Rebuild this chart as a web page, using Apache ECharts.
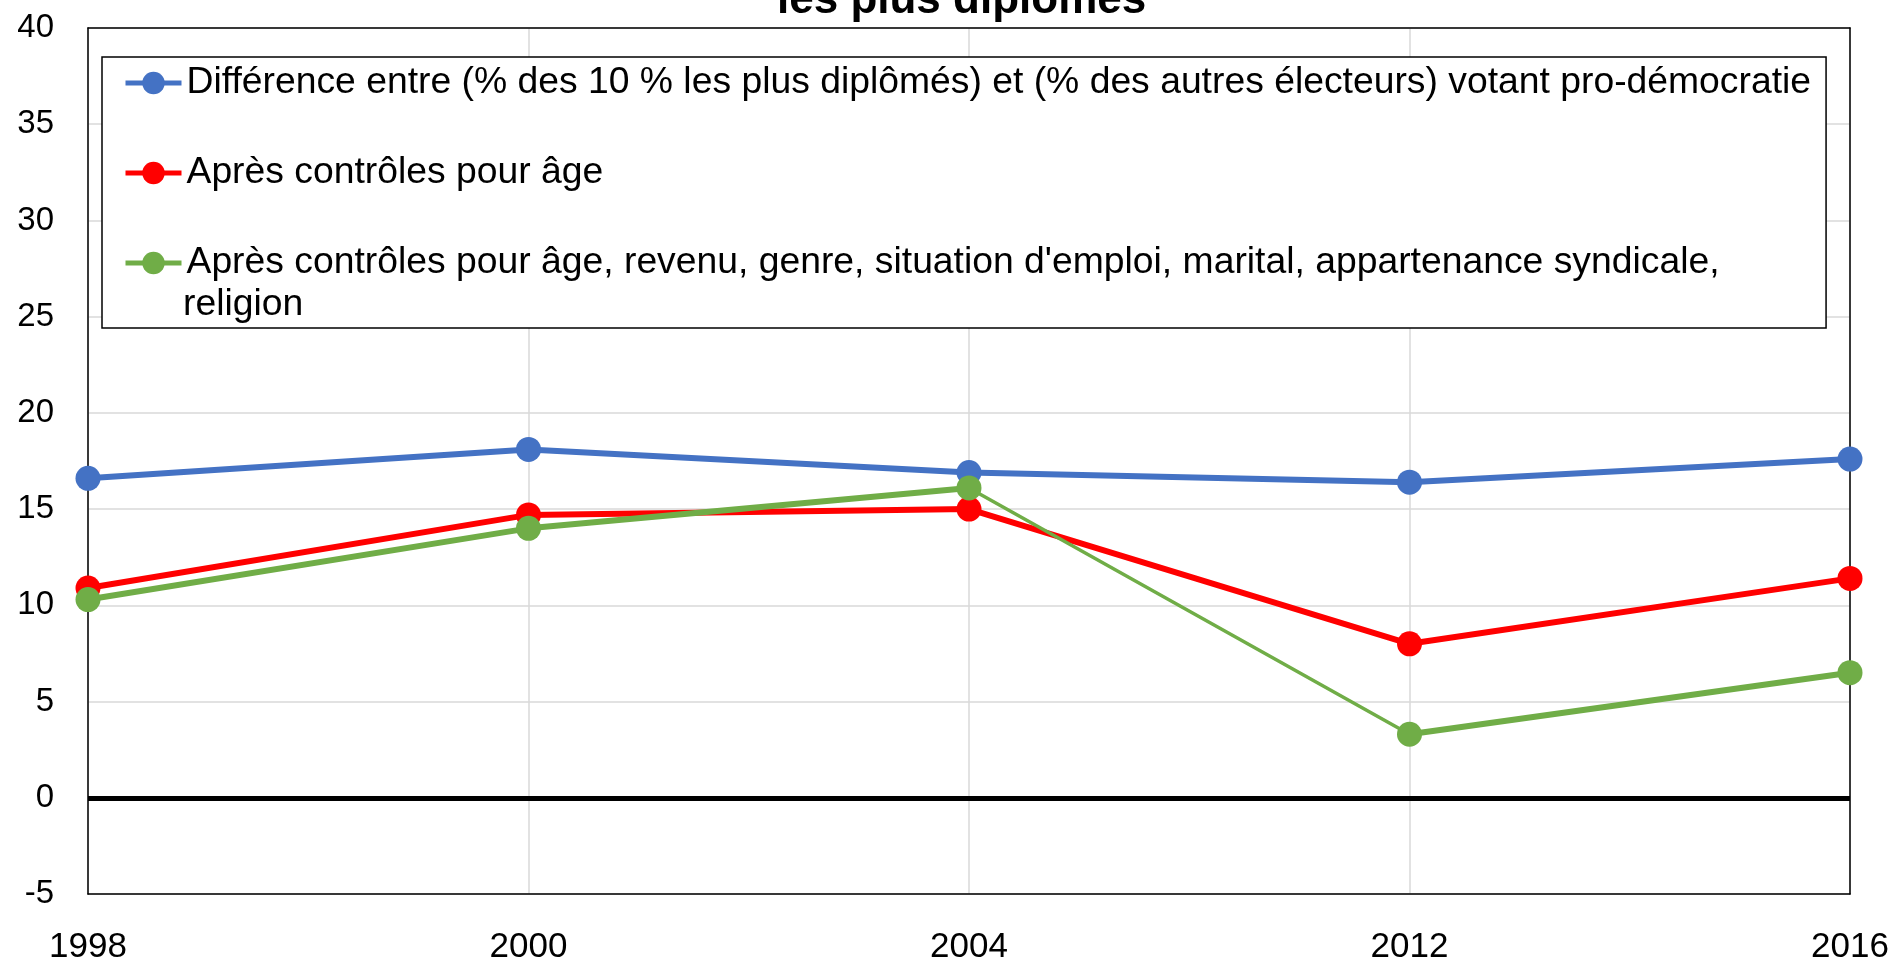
<!DOCTYPE html>
<html>
<head>
<meta charset="utf-8">
<script src="https://cdn.jsdelivr.net/npm/echarts@6/dist/echarts.min.js"></script>
<style>
html,body{margin:0;padding:0;background:#fff;}
#chart{width:1896px;height:966px;}
</style>
</head>
<body>
<div id="chart"></div>
<script>
// ---- data ----
const years = ['1998', '2000', '2004', '2012', '2016'];
const titleText = 'les plus diplômés';
const nameDiff = 'Différence entre (% des 10 % les plus diplômés) et (% des autres électeurs) votant pro-démocratie';
const nameAge = 'Après contrôles pour âge';
const nameFullLine1 = "Après contrôles pour âge, revenu, genre, situation d'emploi, marital, appartenance syndicale,";
const nameFullLine2 = 'religion';
const nameFull = nameFullLine1 + ' ' + nameFullLine2;
const diffValues = [16.6, 18.1, 16.9, 16.4, 17.6];
const ageValues = [10.9, 14.7, 15.0, 8.0, 11.4];
const fullValues = [10.3, 14.0, 16.1, 3.3, 6.5];
const yMin = -5, yMax = 40, yStep = 5;

// ---- style ----
const FONT = "'Liberation Sans', Arial, sans-serif";
const BLUE = '#4472C4', RED = '#FF0000', GREEN = '#70AD47';
const thinSegmentAfter = 2; // green segment between index 2 and 3 is drawn thinner
const LEG_FS = 37.3, LEG_LH = 42;
const LEG_LEFT = 102, LEG_TOP = 57, LEG_PAD = [5, 15, 44, 21], LEG_ITEM_W = 56, LEG_STEP = 90;

const chart = echarts.init(document.getElementById('chart'), null, {renderer: 'canvas'});

const greenA = fullValues.map((v, i) => i <= thinSegmentAfter ? v : '-');
const greenB = fullValues.map((v, i) => i > thinSegmentAfter ? v : '-');

function lineSeries(name, data, color, width, extra) {
  return Object.assign({
    name: name,
    type: 'line',
    data: data,
    symbol: 'circle',
    symbolSize: 25,
    showSymbol: true,
    lineStyle: {color: color, width: width},
    itemStyle: {color: color},
    emphasis: {disabled: true},
    animation: false
  }, extra || {});
}

const frameAxisLine = {show: true, onZero: false, lineStyle: {color: '#000', width: 1.5}};

// continuation line of the third legend entry, placed under its first line
const legendTextX = LEG_LEFT + LEG_PAD[3] + LEG_ITEM_W + 4;
const legendLine2Y = LEG_TOP + LEG_PAD[0] + 2 * LEG_STEP + LEG_LH / 2 + LEG_LH;

const option = {
  animation: false,
  backgroundColor: '#fff',
  textStyle: {fontFamily: FONT},
  title: {
    text: titleText,
    left: 772,
    top: -26,
    textStyle: {fontFamily: FONT, fontSize: 44, fontWeight: 'bold', color: '#000'}
  },
  grid: {left: 88, right: 46, top: 28, bottom: 72},
  legend: {
    orient: 'vertical',
    left: LEG_LEFT, top: LEG_TOP,
    padding: LEG_PAD,
    itemGap: LEG_STEP - LEG_LH,
    itemWidth: LEG_ITEM_W,
    itemHeight: 28,
    backgroundColor: '#fff',
    borderColor: '#000',
    borderWidth: 1.5,
    borderRadius: 0,
    selectedMode: false,
    lineStyle: {width: 5},
    textStyle: {fontFamily: FONT, fontSize: LEG_FS, color: '#000', lineHeight: LEG_LH},
    formatter: function (name) { return name === nameFull ? nameFullLine1 : name; },
    data: [nameDiff, nameAge, nameFull]
  },
  graphic: [{
    type: 'text',
    left: legendTextX,
    top: legendLine2Y - LEG_LH / 2,
    z: 100,
    style: {
      text: nameFullLine2,
      font: LEG_FS + 'px ' + FONT,
      fill: '#000',
      lineHeight: LEG_LH
    }
  }],
  xAxis: [{
    type: 'category',
    data: years,
    boundaryGap: false,
    position: 'bottom',
    axisLine: frameAxisLine,
    axisTick: {show: false},
    axisLabel: {fontFamily: FONT, fontSize: 35, color: '#000', margin: 36},
    splitLine: {show: true, lineStyle: {color: '#d9d9d9', width: 1.5}}
  }, {
    type: 'category',
    data: years,
    boundaryGap: false,
    position: 'top',
    axisLine: frameAxisLine,
    axisTick: {show: false},
    axisLabel: {show: false},
    splitLine: {show: false}
  }],
  yAxis: [{
    type: 'value',
    min: yMin, max: yMax, interval: yStep,
    position: 'left',
    axisLine: frameAxisLine,
    axisTick: {show: false},
    axisLabel: {fontFamily: FONT, fontSize: 33, color: '#000', margin: 34},
    splitLine: {show: true, lineStyle: {color: '#d9d9d9', width: 1.5}}
  }, {
    type: 'value',
    min: yMin, max: yMax, interval: yStep,
    position: 'right',
    axisLine: frameAxisLine,
    axisTick: {show: false},
    axisLabel: {show: false},
    splitLine: {show: false}
  }],
  series: [
    lineSeries(nameDiff, diffValues, BLUE, 6, {
      markLine: {
        silent: true,
        symbol: 'none',
        label: {show: false},
        lineStyle: {color: '#000', width: 5, type: 'solid'},
        emphasis: {disabled: true},
        data: [{yAxis: 0}],
        animation: false
      }
    }),
    lineSeries(nameAge, ageValues, RED, 6),
    lineSeries(nameFull, fullValues, GREEN, 3.5),
    lineSeries('green-a', greenA, GREEN, 6, {showSymbol: false, symbol: 'none'}),
    lineSeries('green-b', greenB, GREEN, 6, {showSymbol: false, symbol: 'none'})
  ]
};
chart.setOption(option);
</script>
</body>
</html>
